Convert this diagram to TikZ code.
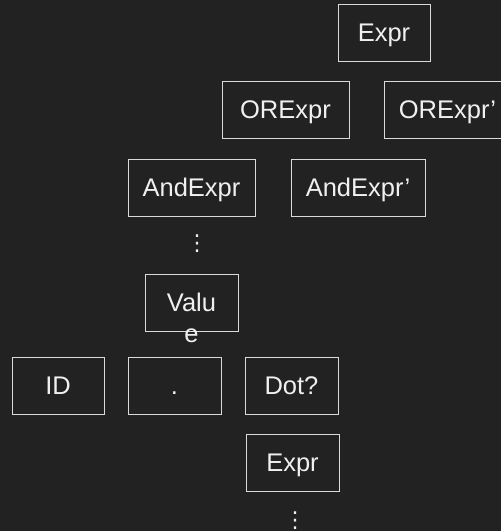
\documentclass[tikz,border=0pt]{standalone}
\usepackage{fontspec}
\setmainfont{Liberation Sans}
\newfontfamily\symfont{DejaVu Sans}
\definecolor{bg}{HTML}{222222}
\definecolor{edge}{HTML}{DADADA}
\definecolor{ink}{HTML}{F0F0F0}
\begin{document}
\begin{tikzpicture}[x=1pt,y=-1pt,
  box/.style={draw=edge, line width=1pt, text=ink, font=\fontsize{25.5}{30}\selectfont,
    minimum width=93pt, minimum height=57pt, inner sep=0pt, text height=18.3pt, text depth=1pt},
  dotsv/.style={text=ink, font=\symfont\fontsize{22}{26}\selectfont, inner sep=0pt},
  wrapped/.style={text=ink, font=\fontsize{25.5}{30.5}\selectfont, align=center, inner sep=0pt}]
\clip (0,0) rectangle (501,531);
\fill[bg] (0,0) rectangle (501,531);
\useasboundingbox (0,0) rectangle (501,531);
\node[box, minimum width=92pt] (expr) at (384,32.5) {Expr};
\node[box, minimum width=127pt] (orexpr) at (285.5,110) {ORExpr};
\node[box, minimum width=127pt] (orexprp) at (447.5,110) {ORExpr’};
\node[box, minimum width=127pt] (andexpr) at (191.5,187.5) {AndExpr};
\node[box, minimum width=134pt] (andexprp) at (358,187.5) {AndExpr’};
\node[dotsv] (vdots1) at (197,243.5) {⋮};
\node[box] (value) at (191.5,302.5) {};
\node[wrapped, anchor=north] (valuetext) at (191.5,293) {Valu\\e};
\node[box, minimum width=92pt] (id) at (58,386) {ID};
\node[box] (dot) at (174.5,386) {.};
\node[box] (dotq) at (291.5,386) {Dot?};
\node[box] (expr2) at (292.5,462.5) {Expr};
\node[dotsv] (vdots2) at (295,520.5) {⋮};
\end{tikzpicture}
\end{document}
